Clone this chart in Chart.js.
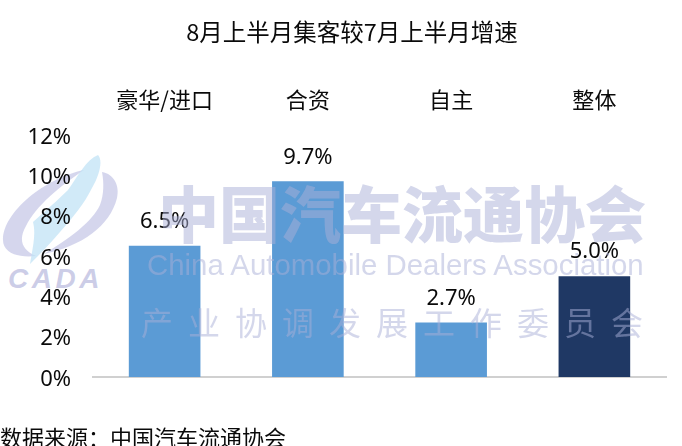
<!DOCTYPE html>
<html>
<head>
    <title>8月上半月集客较7月上半月增速</title>
    <script src="https://cdn.jsdelivr.net/npm/chart.js"></script>
    <style>
        html, body { margin: 0; padding: 0; background: #fff; }
        #wrap { position: relative; width: 682px; height: 446px; overflow: hidden; }
        canvas { position: absolute; left: 0; top: 0; }
        svg { position: absolute; left: 0; top: 0; }
        .txt { position: absolute; white-space: nowrap; color: #0a0a0a; font-family: "Noto Sans CJK SC", "Noto Sans", sans-serif; }
        .wm { position: absolute; white-space: nowrap; color: rgba(170,176,216,0.5); font-family: "Noto Sans CJK SC", sans-serif; }
    </style>
</head>
<body>
<div id="wrap">
    <svg width="130" height="300">
        <path d="M84 170 C45 178 3 212 3 240 C3 252 16 258 36 256 C22 250 18 240 26 226 C36 206 60 186 84 170 Z" fill="rgba(178,180,222,0.55)"/>
        <path d="M102 172 C114 174 120 186 117 198 C110 226 82 246 44 254 C70 238 92 222 100 205 C104 195 104 182 102 172 Z" fill="rgba(178,180,222,0.55)"/>
        <path d="M98 155 C103 160 100 174 92 188 C84 204 74 216 60 232 C50 244 38 256 30 264 C33 246 36 234 33 222 C44 212 58 200 68 190 C78 176 86 160 98 155 Z" fill="rgba(190,225,245,0.7)"/>
        <text x="8" y="288" font-family="Liberation Sans" font-size="28" font-weight="700" font-style="italic" letter-spacing="3.5" fill="rgba(170,172,216,0.6)">CADA</text>
    </svg>
    <canvas id="growthChart" width="682" height="446"></canvas>
    <div class="wm" style="left:158px;top:167px;font-size:61px;font-weight:900;">中国汽车流通协会</div>
    <div class="wm" style="left:147px;top:248px;font-size:29.4px;font-family:'Liberation Sans';">China Automobile Dealers Association</div>
    <div class="wm" style="left:141px;top:298px;font-size:32px;letter-spacing:15px;">产业协调发展工作委员会</div>
    <div class="txt" style="left:0;width:704px;text-align:center;top:14px;font-size:23.5px;">8月上半月集客较7月上半月增速</div>
    <div class="txt" style="left:0;top:420px;font-size:22px;">数据来源：中国汽车流通协会</div>
</div>

<script>
    const categories = ['豪华/进口', '合资', '自主', '整体'];
    const growth = [6.5, 9.7, 2.7, 5.0];
    const barColors = ['#5B9BD5', '#5B9BD5', '#5B9BD5', '#1F3864'];

    const barLabels = {
        id: 'barLabels',
        afterDatasetsDraw(chart) {
            const c = chart.ctx;
            c.save();
            c.font = '22px "Noto Sans", sans-serif';
            c.fillStyle = '#0a0a0a';
            c.textAlign = 'center';
            c.textBaseline = 'bottom';
            chart.getDatasetMeta(0).data.forEach((bar, i) => {
                c.fillText(growth[i].toFixed(1) + '%', bar.x, bar.y - 13);
            });
            c.restore();
        }
    };

    new Chart(document.getElementById('growthChart'), {
        type: 'bar',
        data: {
            labels: categories,
            datasets: [{ data: growth, backgroundColor: barColors, categoryPercentage: 0.5, barPercentage: 1 }]
        },
        options: {
            responsive: false,
            animation: false,
            layout: { padding: { left: 0, right: 16, top: 72.5, bottom: 61 } },
            plugins: { legend: { display: false }, tooltip: { enabled: false } },
            scales: {
                x: {
                    position: 'top',
                    grid: { display: false },
                    border: { display: false },
                    ticks: { color: '#0a0a0a', font: { size: 22, family: '"Noto Sans CJK SC"' }, maxRotation: 0, padding: 14 }
                },
                xBase: {
                    position: 'bottom',
                    grid: { display: false },
                    border: { color: '#D0D0D0', width: 2 },
                    ticks: { display: false }
                },
                y: {
                    min: 0, max: 12,
                    grid: { display: false },
                    border: { display: false },
                    afterFit: s => { s.width = 93; },
                    // empty first line nudges the label down a little, like the original
                    ticks: { stepSize: 2, color: '#0a0a0a', font: { size: 22, family: '"Noto Sans"', lineHeight: '5px' }, padding: 14, callback: v => ['', v + '%'] }
                }
            }
        },
        plugins: [barLabels]
    });
</script>
</body>
</html>
